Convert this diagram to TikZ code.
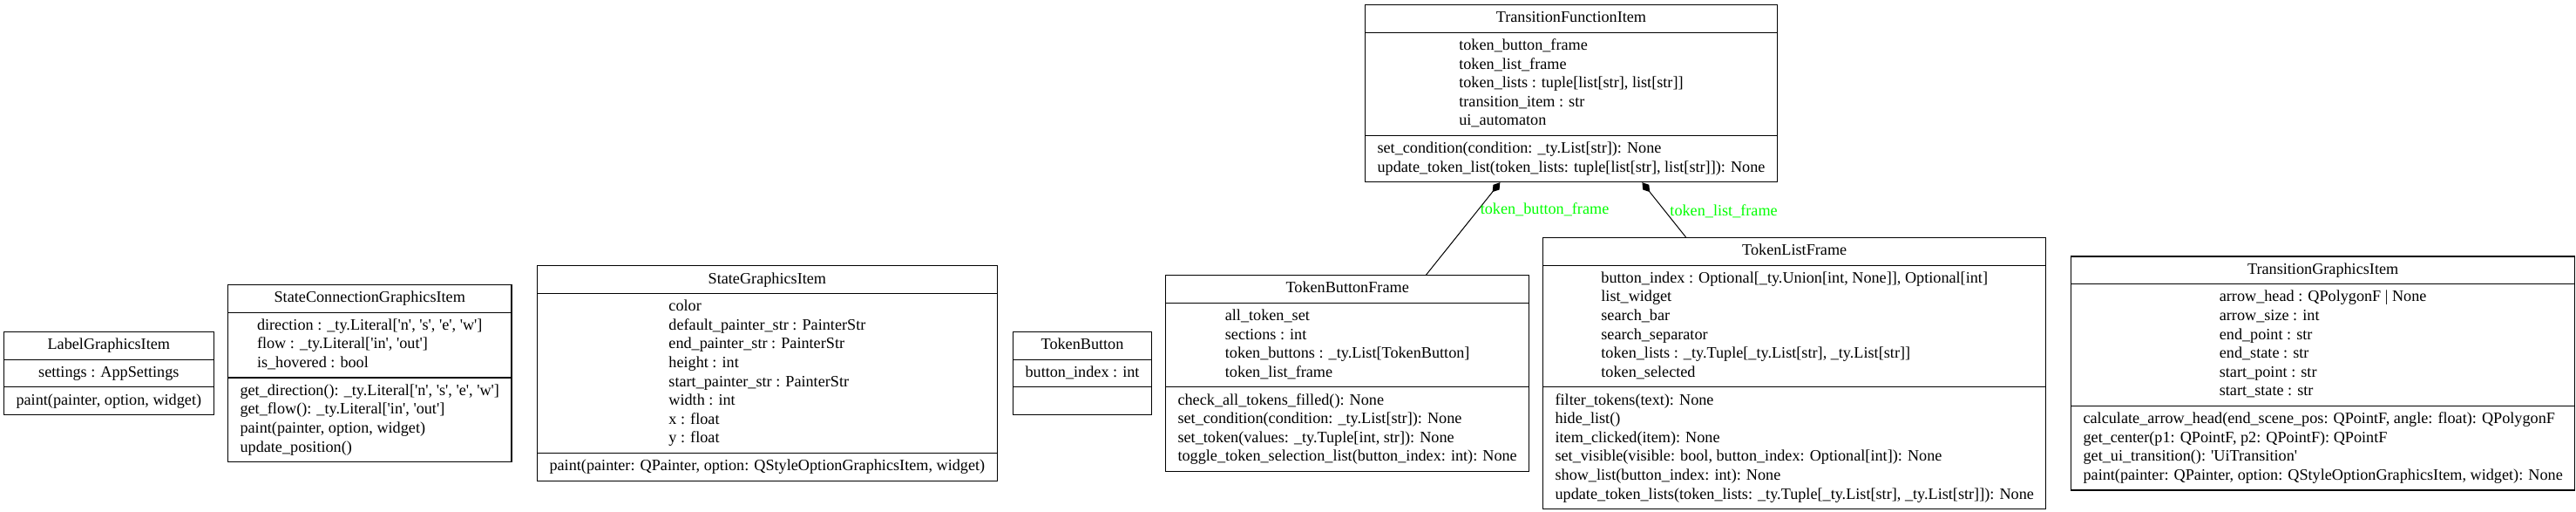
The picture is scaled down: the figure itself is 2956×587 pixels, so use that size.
\documentclass[tikz,border=0pt]{standalone}
\usepackage{fontspec}
\setmainfont{Liberation Serif}
\usetikzlibrary{shapes.multipart,arrows.meta}

\newcommand{\classfont}{\fontsize{9.1}{10.8}\selectfont}
\newcommand{\rows}[1]{\begin{tabular}{@{}l@{}}#1\end{tabular}}
\newcommand{\sq}{\textquotesingle}

\tikzset{
  umlclass/.style={rectangle split, rectangle split parts=3, draw, line width=0.55pt,
    inner xsep=7pt, inner ysep=2.25pt, rectangle split part align={center,center,left},
    font=\classfont, anchor=west},
  composition/.style={-{Diamond[length=7pt,width=4.5pt]}, line width=0.5pt},
  edgelabel/.style={anchor=west, inner sep=0.75pt, font=\classfont, text={rgb,255:red,0;green,255;blue,0}}
}

\begin{document}
\begin{tikzpicture}[x=0.5pt,y=0.5pt,yscale=-1,xscale=1]
\useasboundingbox (0,0) rectangle (2956,587);
\node [umlclass] (labelitem) at (4,428) {\rows{LabelGraphicsItem}
  \nodepart{two}\rows{settings : AppSettings}
  \nodepart{three}\rows{paint(painter, option, widget)}};
\node [umlclass] (connectionitem) at (261,428) {\rows{StateConnectionGraphicsItem}
  \nodepart{two}\rows{direction : \_ty.Literal[\sq n\sq, \sq s\sq, \sq e\sq, \sq w\sq]\\ flow : \_ty.Literal[\sq in\sq, \sq out\sq]\\ is\_hovered : bool}
  \nodepart{three}\rows{get\_direction(): \_ty.Literal[\sq n\sq, \sq s\sq, \sq e\sq, \sq w\sq]\\ get\_flow(): \_ty.Literal[\sq in\sq, \sq out\sq]\\ paint(painter, option, widget)\\ update\_position()}};
\node [umlclass] (stateitem) at (616,428) {\rows{StateGraphicsItem}
  \nodepart{two}\rows{color\\ default\_painter\_str : PainterStr\\ end\_painter\_str : PainterStr\\ height : int\\ start\_painter\_str : PainterStr\\ width : int\\ x : float\\ y : float}
  \nodepart{three}\rows{paint(painter: QPainter, option: QStyleOptionGraphicsItem, widget)}};
\node [umlclass] (tokenbutton) at (1162,428) {\rows{TokenButton}
  \nodepart{two}\rows{button\_index : int}
  \nodepart{three}\rows{\strut}};
\node [umlclass] (tokenbuttonframe) at (1337,428) {\rows{TokenButtonFrame}
  \nodepart{two}\rows{all\_token\_set\\ sections : int\\ token\_buttons : \_ty.List[TokenButton]\\ token\_list\_frame}
  \nodepart{three}\rows{check\_all\_tokens\_filled(): None\\ set\_condition(condition: \_ty.List[str]): None\\ set\_token(values: \_ty.Tuple[int, str]): None\\ toggle\_token\_selection\_list(button\_index: int): None}};
\node [umlclass] (tokenlistframe) at (1770,428) {\rows{TokenListFrame}
  \nodepart{two}\rows{button\_index : Optional[\_ty.Union[int, None]], Optional[int]\\ list\_widget\\ search\_bar\\ search\_separator\\ token\_lists : \_ty.Tuple[\_ty.List[str], \_ty.List[str]]\\ token\_selected}
  \nodepart{three}\rows{filter\_tokens(text): None\\ hide\_list()\\ item\_clicked(item): None\\ set\_visible(visible: bool, button\_index: Optional[int]): None\\ show\_list(button\_index: int): None\\ update\_token\_lists(token\_lists: \_ty.Tuple[\_ty.List[str], \_ty.List[str]]): None}};
\node [umlclass] (transitionitem) at (2376,428) {\rows{TransitionGraphicsItem}
  \nodepart{two}\rows{arrow\_head : QPolygonF | None\\ arrow\_size : int\\ end\_point : str\\ end\_state : str\\ start\_point : str\\ start\_state : str}
  \nodepart{three}\rows{calculate\_arrow\_head(end\_scene\_pos: QPointF, angle: float): QPolygonF\\ get\_center(p1: QPointF, p2: QPointF): QPointF\\ get\_ui\_transition(): \sq UiTransition\sq\\ paint(painter: QPainter, option: QStyleOptionGraphicsItem, widget): None}};
\node [umlclass, anchor=north west] (functionitem) at (1566,5) {\rows{TransitionFunctionItem}
  \nodepart{two}\rows{token\_button\_frame\\ token\_list\_frame\\ token\_lists : tuple[list[str], list[str]]\\ transition\_item : str\\ ui\_automaton}
  \nodepart{three}\rows{set\_condition(condition: \_ty.List[str]): None\\ update\_token\_list(token\_lists: tuple[list[str], list[str]]): None}};
\draw [composition] (tokenbuttonframe) -- (functionitem) node [edgelabel, pos=0.71] {token\_button\_frame};
\draw [composition] (tokenlistframe) -- (functionitem) node [edgelabel, pos=0.48, xshift=2pt] {token\_list\_frame};
\end{tikzpicture}
\end{document}
